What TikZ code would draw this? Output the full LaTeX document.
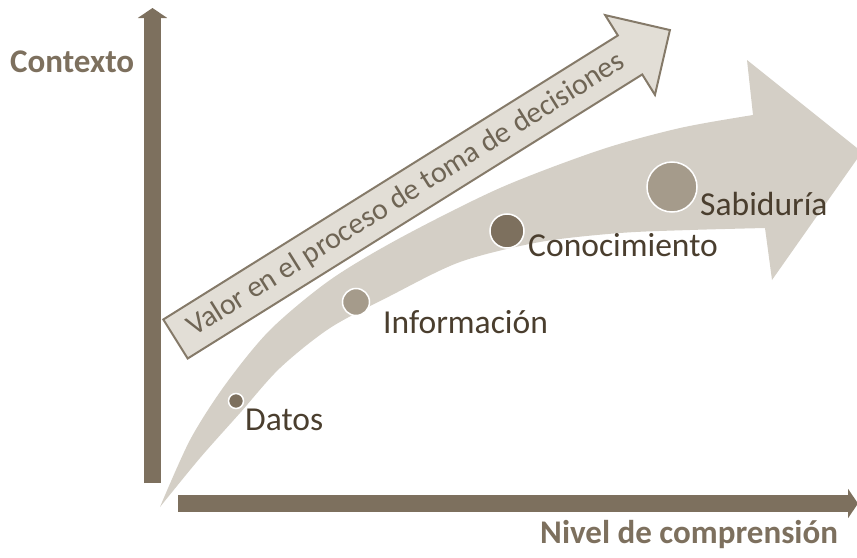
\documentclass[tikz,border=0pt]{standalone}
\usepackage{fontspec}
\setmainfont{Carlito}
\usetikzlibrary{arrows.meta}
\definecolor{achse}{HTML}{7D705E}
\definecolor{banda}{HTML}{D4CFC6}
\definecolor{flecha}{HTML}{E2DED6}
\definecolor{borde}{HTML}{857A69}
\definecolor{texto}{HTML}{4A3E2E}
\definecolor{textoflecha}{HTML}{6F6555}
\definecolor{claro}{HTML}{A59B8B}

\begin{document}
\begin{tikzpicture}[x=0.03cm,y=-0.03cm,
    eje/.style={achse,line width=0.51cm,-{Triangle[width=0.87cm,length=0.3cm]}},
    punto/.style={circle,fill=#1,draw=white,line width=1.3pt,inner sep=0pt},
    etiqueta/.style={anchor=base west,inner sep=0pt,text=texto,font=\fontsize{28.6}{34}\selectfont},
    titulo/.style={anchor=base west,inner sep=0pt,text=achse,font=\fontsize{28.2}{34}\selectfont\bfseries}]
  \useasboundingbox (0,0) rectangle (857,558);

  % Ejes
  \draw[eje] (152.5,483) -- (152.5,8);
  \draw[eje] (178,503.5) -- (858,503.5);
  \node[titulo] (contexto) at (10,72) {Contexto};
  \node[titulo] (nivel) at (540,543) {Nivel de comprensión};

  % Flecha curva
  \fill[banda] plot[smooth] coordinates {(160,507) (190,440) (225,385) (270,330) (330,280)
      (400,238) (500,188) (600,150) (680,128) (753,115)}
    -- (747,60) -- (862,152) -- (772,280) -- (765,228)
    -- plot[smooth] coordinates {(765,228) (690,230) (620,233) (540,242) (460,262)
      (390,296) (330,328) (280,368) (240,413) (200,458) (160,507)} -- cycle;

  % Flecha recta
  \begin{scope}[shift={(175.5,339)},rotate=32]
    \filldraw[fill=flecha,draw=borde,line width=1.7pt]
      (0,-23) -- (536,-23) -- (536,-47) -- (583,0) -- (536,47) -- (536,23) -- (0,23) -- cycle;
    \node[rotate=32,inner sep=0pt,text=textoflecha,font=\fontsize{25.5}{30}\selectfont] (valor) at (272,0)
      {Valor en el proceso de toma de decisiones};
  \end{scope}

  % Puntos
  \node[punto=achse,minimum size=0.45cm] (pdatos) at (236,401) {};
  \node[punto=claro,minimum size=0.81cm] (pinfo) at (356,302) {};
  \node[punto=achse,minimum size=1.02cm] (pcono) at (507,231) {};
  \node[punto=claro,minimum size=1.5cm] (psabi) at (672,187) {};

  % Etiquetas
  \node[etiqueta] (datos) at (245,430) {Datos};
  \node[etiqueta] (info) at (383,333) {Información};
  \node[etiqueta] (cono) at (528,256) {Conocimiento};
  \node[etiqueta] (sabi) at (700,215) {Sabiduría};

\end{tikzpicture}
\end{document}
